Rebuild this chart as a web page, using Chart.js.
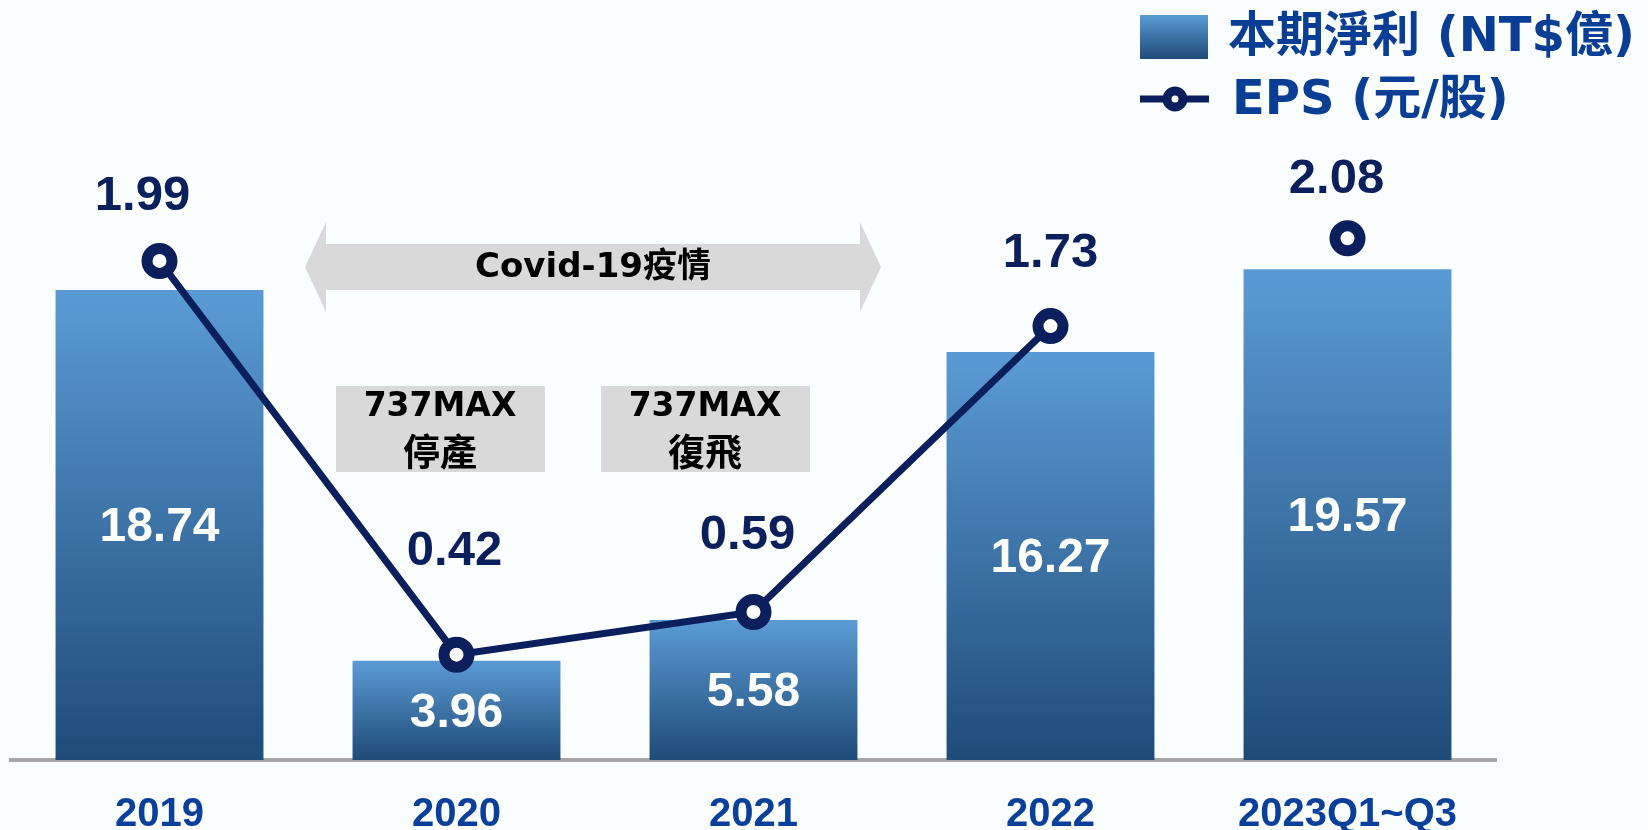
<!DOCTYPE html>
<html>
<head>
<meta charset="utf-8">
<script src="https://cdn.jsdelivr.net/npm/chart.js@4.4.1/dist/chart.umd.min.js"></script>
<style>
  html, body { margin: 0; padding: 0; background: #fbfeff; }
  #wrap { position: relative; width: 1648px; height: 830px; }
</style>
</head>
<body>
<div id="wrap"><canvas id="chart"></canvas></div>
<script>
"use strict";

// Net income (NT$ 100M) bars + EPS line, 2019 .. 2023Q1~Q3

const years = ["2019", "2020", "2021", "2022", "2023Q1~Q3"];
const netIncome = [18.74, 3.96, 5.58, 16.27, 19.57];
const eps = [1.99, 0.42, 0.59, 1.73, 2.08];

const legendLabels = ["本期淨利 (NT$億)", "EPS (元/股)"];
const covidLabel = "Covid-19疫情";
const maxNotes = [["737MAX", "停產"], ["737MAX", "復飛"]];

const NAVY = "#0b1f5c";
const BLUE_TEXT = "#0a3e94";
const BAR_TOP = "#5b9bd5";
const BAR_BOTTOM = "#1f4b78";
const GREY = "#d9d9d9";

// ---- helpers ----

function barGradient(c, top, bottom) {
  const g = c.createLinearGradient(0, top, 0, bottom);
  g.addColorStop(0, BAR_TOP);
  g.addColorStop(1, BAR_BOTTOM);
  return g;
}

// ---- plugins ----

const annotations = {
  id: "annotations",
  beforeDatasetsDraw(chart) {
    const c = chart.ctx;
    c.save();

    // double arrow over 2020-2021
    c.fillStyle = GREY;
    c.beginPath();
    c.moveTo(305, 267);
    c.lineTo(326, 222);
    c.lineTo(326, 244);
    c.lineTo(860, 244);
    c.lineTo(860, 222);
    c.lineTo(881, 267);
    c.lineTo(860, 312);
    c.lineTo(860, 290);
    c.lineTo(326, 290);
    c.lineTo(326, 312);
    c.closePath();
    c.fill();

    c.fillStyle = "#000";
    c.textAlign = "center";
    c.textBaseline = "middle";
    c.font = "bold 34px 'DejaVu Sans', 'Noto Sans CJK TC'";
    c.fillText(covidLabel, 593, 268);

    // 737MAX boxes
    const boxes = [336, 601];
    boxes.forEach((x, i) => {
      c.fillStyle = GREY;
      c.fillRect(x, 386, 209, 86);
      c.fillStyle = "#000";
      c.font = "bold 33px 'DejaVu Sans', 'Noto Sans CJK TC'";
      c.fillText(maxNotes[i][0], x + 104, 407);
      c.font = "bold 37px 'Noto Sans CJK TC'";
      c.fillText(maxNotes[i][1], x + 104, 452);
    });
    c.restore();
  },
  afterDatasetsDraw(chart) {
    const c = chart.ctx;
    const bars = chart.getDatasetMeta(1).data;
    const pts = chart.getDatasetMeta(0).data;
    c.save();
    c.textAlign = "center";
    c.textBaseline = "middle";
    c.font = "bold 48px 'Liberation Sans', Arial, sans-serif";

    c.fillStyle = "#ffffff";
    bars.forEach((b, i) => {
      c.fillText(netIncome[i].toFixed(2), b.x, (b.y + b.base) / 2 + 3);
    });

    const off = [[-17, -64], [-2, -103], [-6, -77], [0, -73], [-11, -59]];
    c.font = "bold 49px 'Liberation Sans', Arial, sans-serif";
    c.fillStyle = NAVY;
    pts.forEach((p, i) => {
      c.fillText(eps[i].toFixed(2), p.x + off[i][0], p.y + off[i][1]);
    });

    // legend
    c.fillStyle = barGradient(c, 15, 59);
    c.fillRect(1140, 15, 68, 44);

    c.strokeStyle = NAVY;
    c.lineWidth = 7;
    c.beginPath();
    c.moveTo(1140, 99);
    c.lineTo(1209, 99);
    c.stroke();
    c.fillStyle = "#ffffff";
    c.lineWidth = 9;
    c.beginPath();
    c.arc(1175, 99, 8, 0, Math.PI * 2);
    c.fill();
    c.stroke();

    c.textAlign = "left";
    c.fillStyle = BLUE_TEXT;
    c.font = "bold 48px 'DejaVu Sans', 'Noto Sans CJK TC'";
    c.fillText(legendLabels[0], 1228, 39);
    c.fillText(legendLabels[1], 1232, 102);
    c.restore();
  },
};

// ---- chart ----

new Chart(document.getElementById("chart"), {
  data: {
    labels: years,
    datasets: [
      {
        type: "line",
        label: legendLabels[1],
        data: eps,
        yAxisID: "y2",
        order: 0,
        borderColor: NAVY,
        borderWidth: 7,
        pointRadius: 12.5,
        pointHoverRadius: 12.5,
        pointBorderWidth: 11,
        pointBackgroundColor: "#ffffff",
        pointBorderColor: NAVY,
        tension: 0,
        segment: {
          borderColor: (ctx) => (ctx.p1DataIndex === 4 ? "rgba(0,0,0,0)" : NAVY),
        },
      },
      {
        type: "bar",
        label: legendLabels[0],
        data: netIncome,
        yAxisID: "y",
        order: 1,
        categoryPercentage: 1,
        barPercentage: 0.7,
        backgroundColor: (ctx) => {
          const chart = ctx.chart;
          if (!chart.chartArea || ctx.type !== "data") return BAR_TOP;
          const y = chart.scales.y;
          return barGradient(chart.ctx, y.getPixelForValue(ctx.raw), y.getPixelForValue(0));
        },
      },
    ],
  },
  options: {
    responsive: true,
    maintainAspectRatio: false,
    animation: false,
    layout: { autoPadding: false, padding: { left: 11, right: 152, top: 133, bottom: 0 } },
    plugins: {
      legend: { display: false },
      tooltip: { enabled: false },
    },
    scales: {
      x: {
        grid: { display: false, drawTicks: false },
        border: { display: true, color: "#a6a6a6", width: 4 },
        ticks: {
          color: "#0a3f9a",
          padding: 35,
          font: { family: "'Liberation Sans', Arial, sans-serif", size: 40, weight: "bold", lineHeight: 1 },
        },
        afterFit: (s) => {
          s.height = 70;
          s.paddingLeft = 0;
          s.paddingRight = 0;
        },
      },
      y: { display: false, min: 0, max: 25 },
      y2: { display: false, position: "right", min: 0, max: 2.5 },
    },
  },
  plugins: [annotations],
});
</script>
</body>
</html>
